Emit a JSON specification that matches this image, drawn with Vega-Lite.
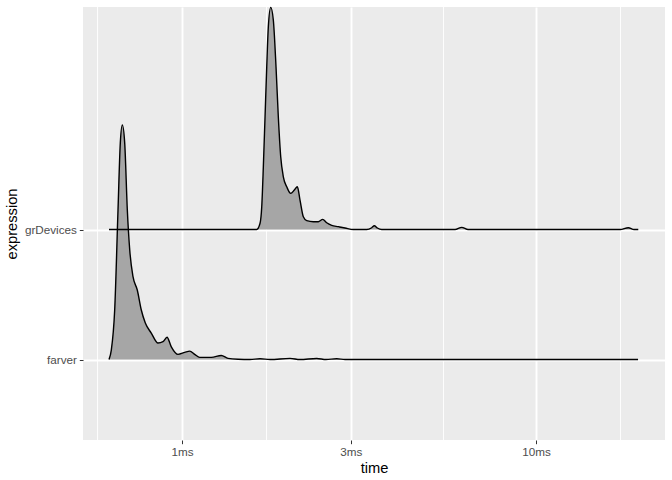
{
  "$schema": "https://vega.github.io/schema/vega-lite/v6.json",
  "width": 582,
  "height": 433,
  "autosize": {"type": "none"},
  "padding": {"left": 83, "top": 7, "right": 7, "bottom": 40},
  "background": "white",
  "config": {
    "view": {"fill": "#EBEBEB", "stroke": null},
    "font": "Liberation Sans",
    "axis": {
      "domain": false,
      "gridColor": "white",
      "gridWidth": 1.9,
      "tickColor": "#333333",
      "tickSize": 3.7,
      "tickWidth": 1,
      "labelColor": "#4D4D4D",
      "labelFontSize": 11.7,
      "labelFont": "Liberation Sans",
      "titleFont": "Liberation Sans",
      "titleFontSize": 14.7,
      "titleFontWeight": "normal",
      "titleColor": "black",
      "labelPadding": 2.9
    }
  },
  "datasets": {
    "minor": [
      {"t": 0.5774}, {"t": 1.7321}, {"t": 5.4772}, {"t": 17.3205}
    ],
    "ridges": [
      {"expression": "farver", "time": 0.622, "height": 0},
      {"expression": "farver", "time": 0.6314, "height": 0.073},
      {"expression": "farver", "time": 0.6454, "height": 0.381},
      {"expression": "farver", "time": 0.6595, "height": 1.15},
      {"expression": "farver", "time": 0.6694, "height": 1.665},
      {"expression": "farver", "time": 0.6783, "height": 1.804},
      {"expression": "farver", "time": 0.6889, "height": 1.665},
      {"expression": "farver", "time": 0.7007, "height": 1.15},
      {"expression": "farver", "time": 0.7118, "height": 0.842},
      {"expression": "farver", "time": 0.7271, "height": 0.637},
      {"expression": "farver", "time": 0.7476, "height": 0.535},
      {"expression": "farver", "time": 0.7674, "height": 0.381},
      {"expression": "farver", "time": 0.7877, "height": 0.281},
      {"expression": "farver", "time": 0.8188, "height": 0.204},
      {"expression": "farver", "time": 0.8554, "height": 0.127},
      {"expression": "farver", "time": 0.8837, "height": 0.137},
      {"expression": "farver", "time": 0.9071, "height": 0.171},
      {"expression": "farver", "time": 0.9328, "height": 0.098},
      {"expression": "farver", "time": 0.9743, "height": 0.04},
      {"expression": "farver", "time": 1.0177, "height": 0.055},
      {"expression": "farver", "time": 1.0514, "height": 0.065},
      {"expression": "farver", "time": 1.0861, "height": 0.04},
      {"expression": "farver", "time": 1.1221, "height": 0.017},
      {"expression": "farver", "time": 1.21, "height": 0.017},
      {"expression": "farver", "time": 1.2913, "height": 0.031},
      {"expression": "farver", "time": 1.3489, "height": 0.009},
      {"expression": "farver", "time": 1.4394, "height": 0.002},
      {"expression": "farver", "time": 1.5564, "height": 0},
      {"expression": "farver", "time": 1.6613, "height": 0.006},
      {"expression": "farver", "time": 1.7726, "height": 0},
      {"expression": "farver", "time": 2.0191, "height": 0.009},
      {"expression": "farver", "time": 2.1544, "height": 0},
      {"expression": "farver", "time": 2.4014, "height": 0.008},
      {"expression": "farver", "time": 2.5515, "height": 0},
      {"expression": "farver", "time": 2.7353, "height": 0.006},
      {"expression": "farver", "time": 2.8874, "height": 0},
      {"expression": "farver", "time": 19.42, "height": 0},
      {"expression": "grDevices", "time": 0.622, "height": 0},
      {"expression": "grDevices", "time": 1.5564, "height": 0},
      {"expression": "grDevices", "time": 1.6255, "height": 0},
      {"expression": "grDevices", "time": 1.6613, "height": 0.048},
      {"expression": "grDevices", "time": 1.6797, "height": 0.175},
      {"expression": "grDevices", "time": 1.6973, "height": 0.483},
      {"expression": "grDevices", "time": 1.7162, "height": 0.868},
      {"expression": "grDevices", "time": 1.7352, "height": 1.252},
      {"expression": "grDevices", "time": 1.7533, "height": 1.56},
      {"expression": "grDevices", "time": 1.7808, "height": 1.709},
      {"expression": "grDevices", "time": 1.8111, "height": 1.612},
      {"expression": "grDevices", "time": 1.8431, "height": 1.252},
      {"expression": "grDevices", "time": 1.8709, "height": 0.868},
      {"expression": "grDevices", "time": 1.9004, "height": 0.56},
      {"expression": "grDevices", "time": 1.933, "height": 0.406},
      {"expression": "grDevices", "time": 1.9762, "height": 0.329},
      {"expression": "grDevices", "time": 2.0283, "height": 0.278},
      {"expression": "grDevices", "time": 2.0762, "height": 0.304},
      {"expression": "grDevices", "time": 2.1172, "height": 0.329},
      {"expression": "grDevices", "time": 2.1544, "height": 0.227},
      {"expression": "grDevices", "time": 2.2016, "height": 0.098},
      {"expression": "grDevices", "time": 2.2508, "height": 0.068},
      {"expression": "grDevices", "time": 2.3496, "height": 0.06},
      {"expression": "grDevices", "time": 2.4266, "height": 0.06},
      {"expression": "grDevices", "time": 2.4976, "height": 0.078},
      {"expression": "grDevices", "time": 2.5632, "height": 0.052},
      {"expression": "grDevices", "time": 2.6479, "height": 0.032},
      {"expression": "grDevices", "time": 2.764, "height": 0.022},
      {"expression": "grDevices", "time": 2.8874, "height": 0.012},
      {"expression": "grDevices", "time": 3.0479, "height": 0},
      {"expression": "grDevices", "time": 3.3249, "height": 0},
      {"expression": "grDevices", "time": 3.4347, "height": 0.014},
      {"expression": "grDevices", "time": 3.493, "height": 0.029},
      {"expression": "grDevices", "time": 3.5619, "height": 0.012},
      {"expression": "grDevices", "time": 3.6655, "height": 0},
      {"expression": "grDevices", "time": 5.905, "height": 0},
      {"expression": "grDevices", "time": 6.168, "height": 0.017},
      {"expression": "grDevices", "time": 6.427, "height": 0},
      {"expression": "grDevices", "time": 17.28, "height": 0},
      {"expression": "grDevices", "time": 18.23, "height": 0.014},
      {"expression": "grDevices", "time": 18.92, "height": 0},
      {"expression": "grDevices", "time": 19.45, "height": 0}
    ]
  },
  "layer": [
    {
      "data": {"name": "minor"},
      "mark": {"type": "rule", "color": "white", "strokeWidth": 0.95},
      "encoding": {
        "x": {"field": "t", "type": "quantitative", "scale": {"type": "log", "domain": [0.5252, 23.14], "nice": false}}
      }
    },
    {
      "data": {"name": "ridges"},
      "transform": [
        {"calculate": "datum.expression === 'farver' ? 1 : 2", "as": "base"},
        {"calculate": "datum.base + datum.height", "as": "top"}
      ],
      "mark": {
        "type": "area",
        "interpolate": "monotone",
        "fill": "#A6A6A6",
        "opacity": 1,
        "fillOpacity": 1,
        "line": {"color": "black", "strokeWidth": 1.4, "opacity": 1}
      },
      "encoding": {
        "detail": {"field": "expression"},
        "x": {
          "field": "time",
          "type": "quantitative",
          "scale": {"type": "log", "domain": [0.5252, 23.14], "nice": false},
          "axis": {
            "values": [1, 3, 10],
            "labelExpr": "datum.value + 'ms'",
            "title": "time",
            "titlePadding": 2
          }
        },
        "y": {
          "field": "top",
          "type": "quantitative",
          "scale": {"domain": [0.381, 3.712], "nice": false, "zero": false},
          "axis": {
            "values": [1, 2],
            "labelExpr": "datum.value == 1 ? 'farver' : 'grDevices'",
            "title": "expression",
            "titlePadding": 5
          }
        },
        "y2": {"field": "base"}
      }
    }
  ]
}
